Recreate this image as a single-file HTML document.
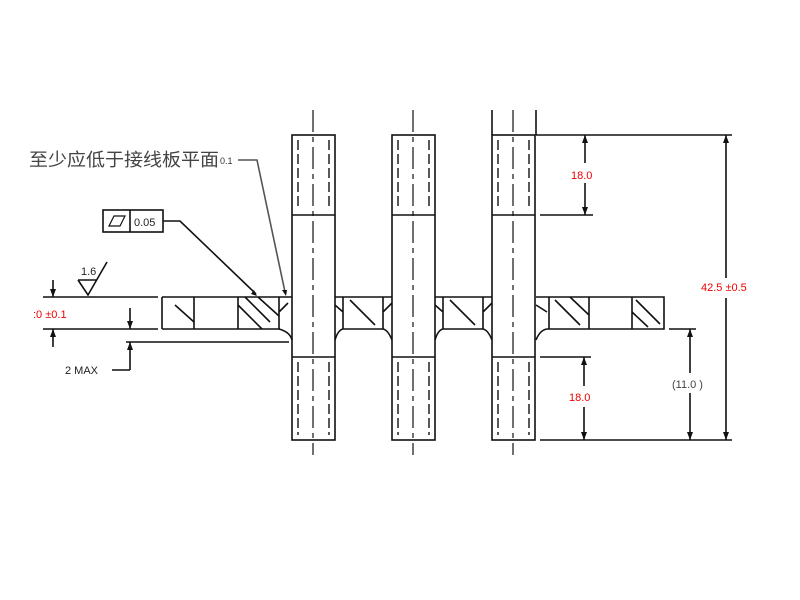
<!DOCTYPE html>
<html><head><meta charset="utf-8"><style>
html,body{margin:0;padding:0;background:#fff;}
svg{display:block;}
text{font-family:"Liberation Sans","Noto Sans CJK SC",sans-serif;}
</style></head><body>
<svg width="800" height="600" viewBox="0 0 800 600" xmlns="http://www.w3.org/2000/svg">
<g stroke="#111" stroke-width="1.6" fill="none">
<!-- pins -->
<g id="pin">
<rect x="292" y="135" width="43" height="305" fill="#fff"/>
<line x1="292" y1="215" x2="335" y2="215"/>
<line x1="292" y1="357" x2="335" y2="357"/>
<line x1="298" y1="140" x2="298" y2="210" stroke-dasharray="10,4" stroke-width="1.4"/>
<line x1="329" y1="140" x2="329" y2="210" stroke-dasharray="10,4" stroke-width="1.4"/>
<line x1="298" y1="362" x2="298" y2="435" stroke-dasharray="10,4" stroke-width="1.4"/>
<line x1="329" y1="362" x2="329" y2="435" stroke-dasharray="10,4" stroke-width="1.4"/>
<line x1="313" y1="110" x2="313" y2="455" stroke-dasharray="22,5,5,5" stroke-width="1.2"/>
</g>
<use href="#pin" x="100"/>
<use href="#pin" x="200"/>
<line x1="492" y1="110" x2="492" y2="135"/>
<line x1="536" y1="110" x2="536" y2="135"/>
<!-- plate left -->
<line x1="43" y1="297" x2="158" y2="297"/>
<line x1="43" y1="329" x2="158" y2="329"/>
<path d="M162 297H292M162 329H280M162 297V329M194 297V329M238 297V329M279 297V329"/>
<path d="M175 305L194 322M238 305L262 329M245 297L270 322M258 297L279 316M279 312L288 303M279 329Q290 332 292 340"/>
<line x1="126" y1="342" x2="289" y2="342"/>
<!-- plate middle -->
<path d="M335 297H392M343 297V329M383 297V329M343 329H383M350 300L375 325M343 312L335 305M383 312L392 303M335 340Q338 330 343 329M392 340Q388 330 383 329"/>
<path d="M435 297H492M443 297V329M483 297V329M443 329H483M450 300L475 325M443 312L435 305M483 312L492 303M435 340Q438 330 443 329M492 340Q488 330 483 329"/>
<!-- plate right -->
<path d="M536 297H664V329H547M549 297V329M589 297V329M632 297V329"/>
<path d="M555 300L580 325M570 297L589 315M636 300L660 324M632 312L648 327M547 312L536 305M536 340Q540 330 547 329"/>
<!-- right dims -->
<line x1="536" y1="135" x2="732" y2="135"/>
<line x1="540" y1="440" x2="732" y2="440"/>
<line x1="540" y1="215" x2="593" y2="215"/>
<line x1="540" y1="357" x2="591" y2="357"/>
<line x1="669" y1="329" x2="696" y2="329"/>
<line x1="726" y1="135" x2="726" y2="278"/><line x1="726" y1="298" x2="726" y2="440"/>
<line x1="585" y1="135" x2="585" y2="163"/><line x1="585" y1="183" x2="585" y2="215"/>
<line x1="584" y1="357" x2="584" y2="386"/><line x1="584" y1="407" x2="584" y2="440"/>
<line x1="690" y1="329" x2="690" y2="373"/><line x1="690" y1="393" x2="690" y2="440"/>
<!-- left dims -->
<line x1="53" y1="280" x2="53" y2="297"/><line x1="53" y1="329" x2="53" y2="347"/>
<line x1="130" y1="308" x2="130" y2="329"/>
<line x1="130" y1="342" x2="130" y2="370"/><line x1="112" y1="370" x2="130" y2="370"/>
<!-- roughness -->
<path d="M78 280L88 295L107 262M78 280H97"/>
<!-- flatness frame -->
<rect x="103" y="210" width="60" height="22"/>
<line x1="130" y1="210" x2="130" y2="232"/>
<path d="M109 226L114 216H125L120 226Z" stroke-width="1.2"/>
<path d="M163 221H180L256 294"/>
<!-- note leader -->
<path d="M238 160H257L285 292" stroke="#555"/>
</g>
<g fill="#111">
<path d="M726 135l-3 8h6zM726 440l-3-8h6zM585 135l-3 8h6zM585 215l-3-8h6zM584 357l-3 8h6zM584 440l-3-8h6zM690 329l-3 8h6zM690 440l-3-8h6zM53 297l-3-8h6zM53 329l-3 8h6zM130 329l-3-8h6zM130 342l-3 8h6zM257 296l-6-2 3-4zM286 296l-4-6 5 0z"/>
</g>
<g font-size="11">
<text x="29" y="166" font-size="18" fill="#444" font-family="'Noto Serif CJK SC',serif" textLength="190" lengthAdjust="spacingAndGlyphs">至少应低于接线板平面</text>
<text x="220" y="164" font-size="9" fill="#333">0.1</text>
<text x="134" y="226" fill="#222">0.05</text>
<text x="81" y="275" fill="#222">1.6</text>
<text x="33" y="318" fill="#e00">:0 ±0.1</text>
<text x="65" y="374" fill="#222">2 MAX</text>
<text x="571" y="179" fill="#e00">18.0</text>
<text x="569" y="401" fill="#e00">18.0</text>
<text x="672" y="388" fill="#444">(11.0 )</text>
<text x="701" y="291" fill="#e00">42.5 ±0.5</text>
</g>
</svg>
</body></html>
